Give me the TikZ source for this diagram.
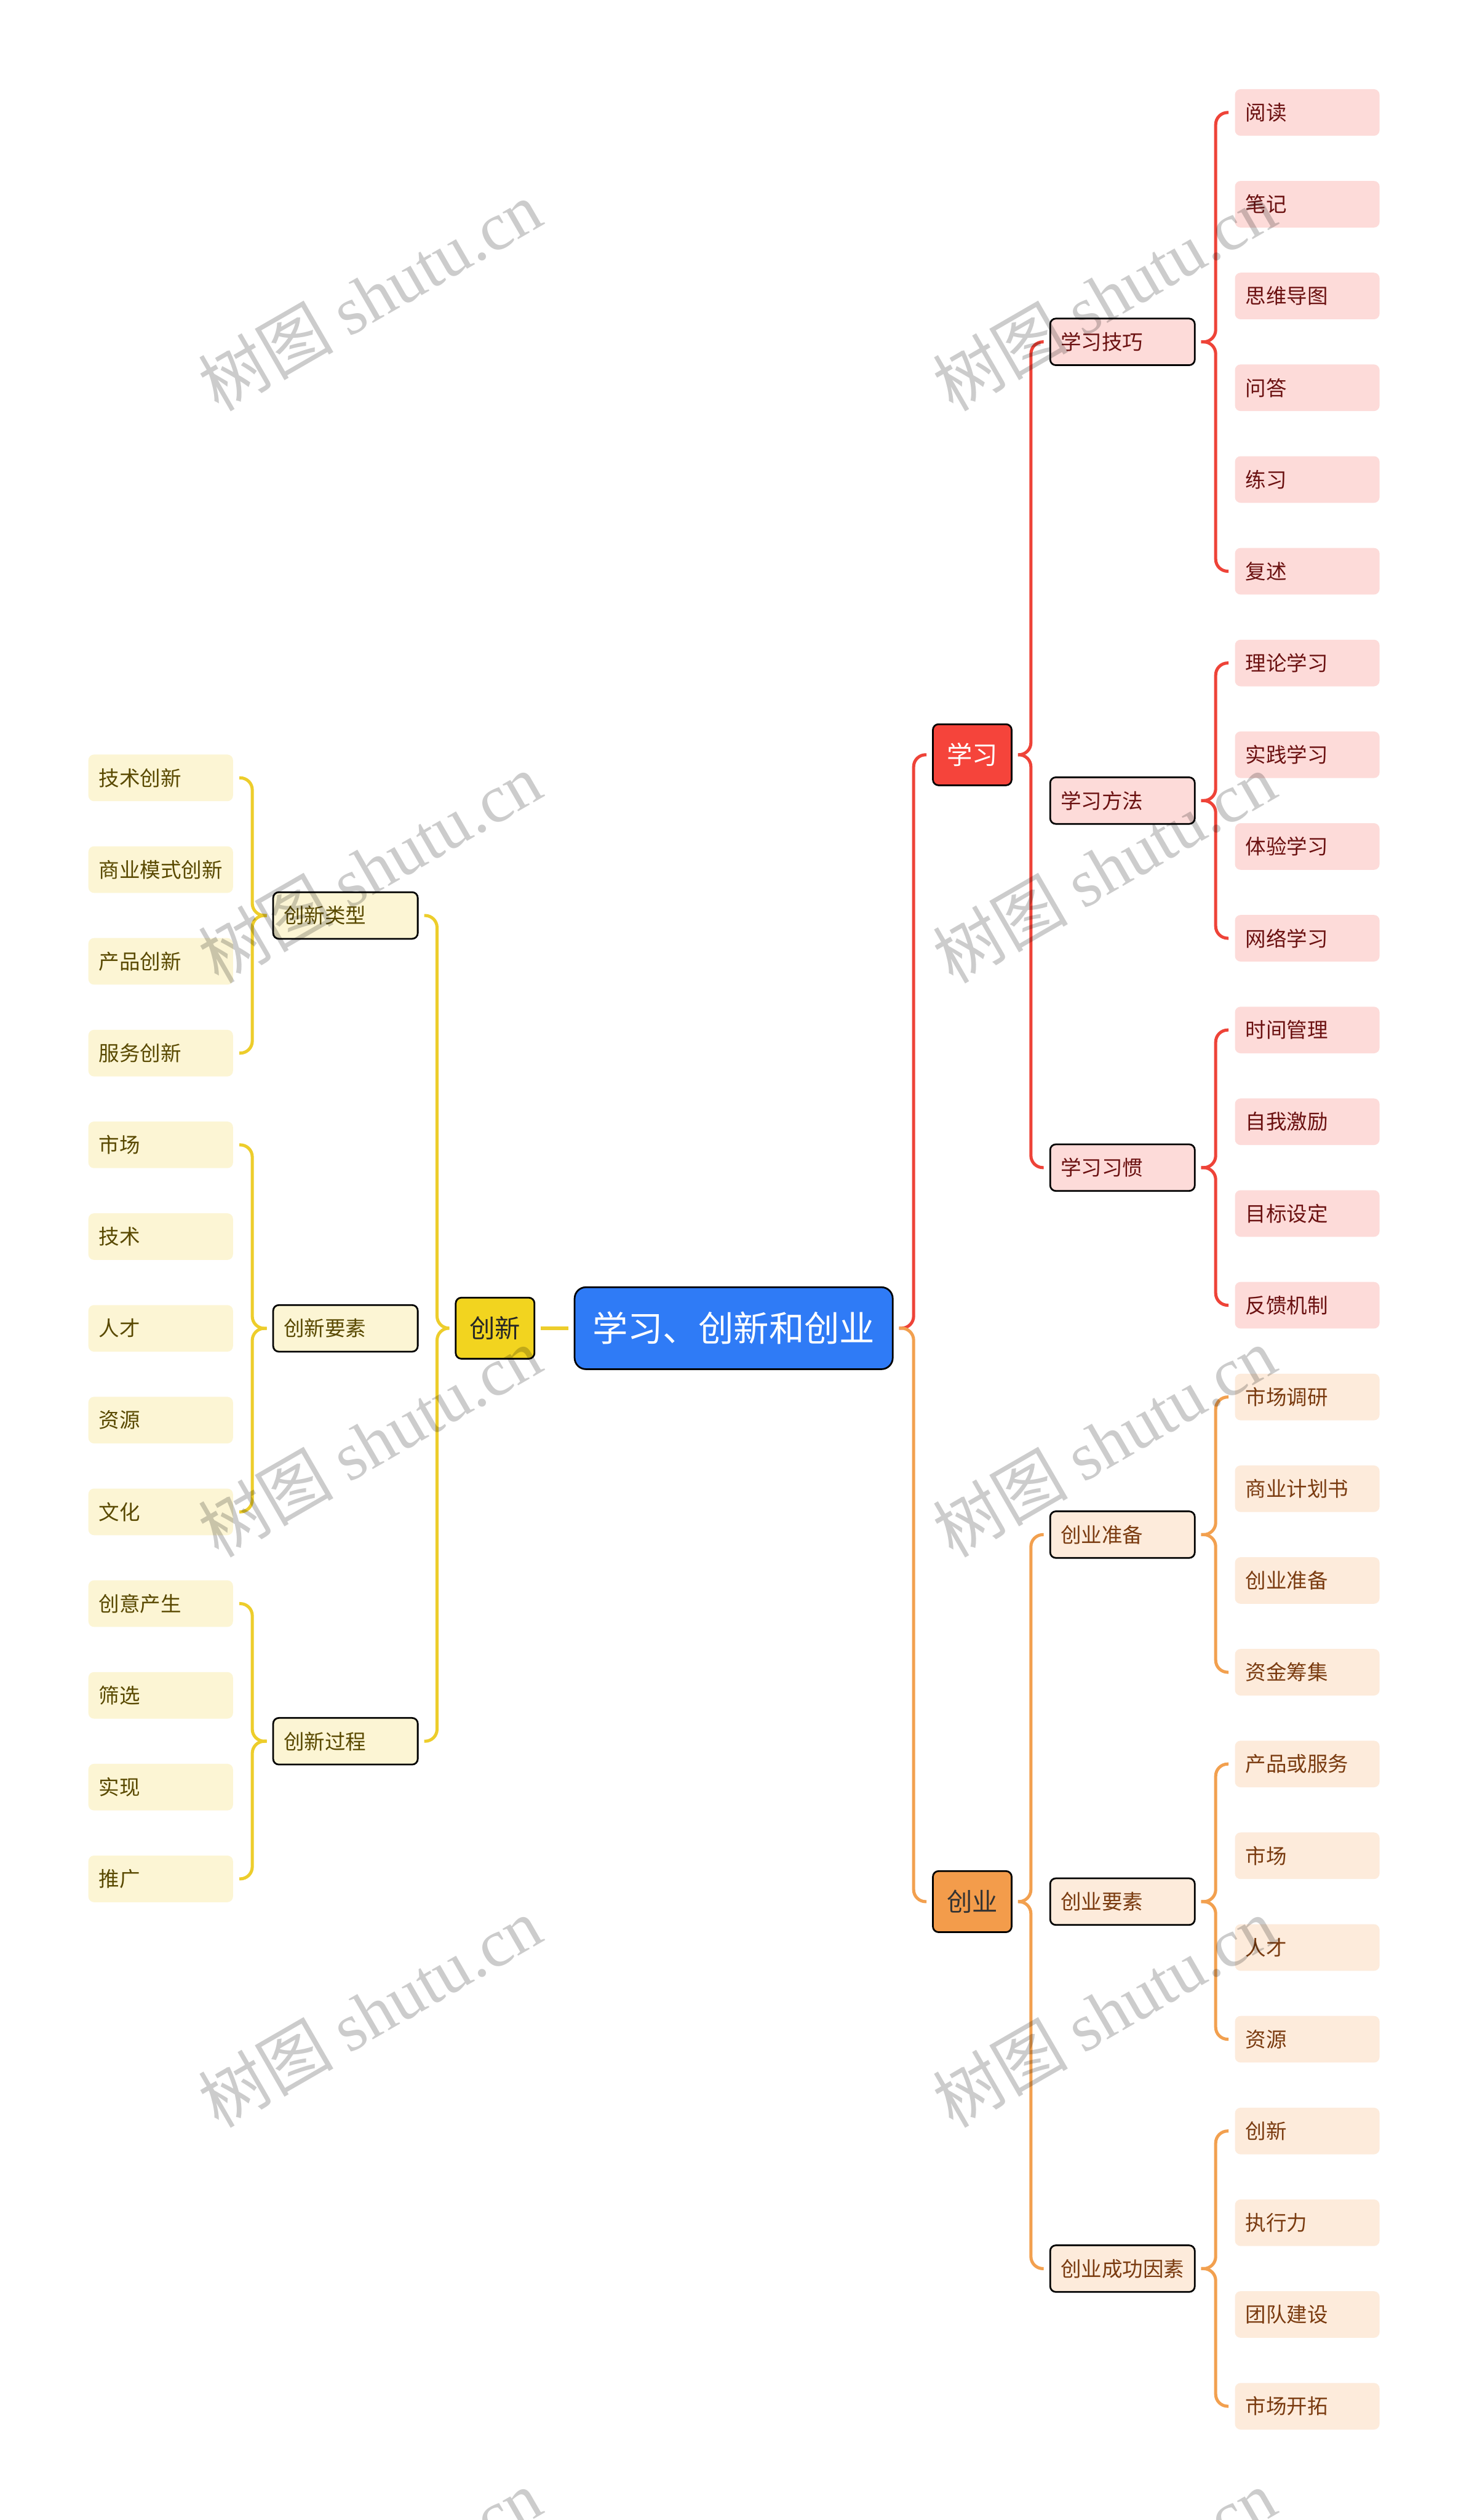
\documentclass[tikz,border=0pt]{standalone}
\usepackage{fontspec}
\setmainfont{Noto Sans CJK SC}
\newfontfamily\wmlatin{Liberation Serif}
\usetikzlibrary{positioning, calc}
\definecolor{rootblue}{HTML}{2F7BF6}
\definecolor{xxred}{HTML}{F5443B}
\definecolor{xxline}{HTML}{EE4338}
\definecolor{xxpink}{HTML}{FDDBD9}
\definecolor{xxtext}{HTML}{6B1111}
\definecolor{cyorange}{HTML}{F39C4B}
\definecolor{cyline}{HTML}{F2A04F}
\definecolor{cypeach}{HTML}{FDEBDB}
\definecolor{cytext}{HTML}{7A3B10}
\definecolor{cxyellow}{HTML}{F2D41F}
\definecolor{cxline}{HTML}{EDCD2B}
\definecolor{cxcream}{HTML}{FCF5D4}
\definecolor{cxtext}{HTML}{594900}
\newcommand{\rootsize}{\fontsize{12.5}{14}\selectfont}
\newcommand{\mainsize}{\fontsize{9}{10}\selectfont}
\newcommand{\subsize}{\fontsize{7.3}{8}\selectfont}
\newcommand{\wmsize}{\fontsize{24}{26}\selectfont}

\begin{document}
\begin{tikzpicture}[x=0.02cm, y=-0.02cm, node distance=0.562cm,
                    rootbox/.style = {draw, line width=0.6pt, rounded corners=4pt, fill=rootblue, text=white,
                                      minimum width=3.96cm, minimum height=1.02cm, inner sep=0pt, outer sep=0pt,
                                      font=\rootsize},
                    mainbox/.style = {draw, line width=0.6pt, rounded corners=2pt, minimum width=0.98cm,
                                      minimum height=0.76cm, inner sep=0pt, outer sep=0pt, font=\mainsize},
                    subbox/.style = {draw, line width=0.6pt, rounded corners=2pt, text width=1.54cm, inner xsep=0.13cm,
                                     inner ysep=0pt, outer sep=0pt, minimum height=0.58cm, align=left, font=\subsize},
                    leaf/.style = {subbox, draw=none},
                    xx/.style = {fill=xxpink, text=xxtext},
                    cy/.style = {fill=cypeach, text=cytext},
                    cx/.style = {fill=cxcream, text=cxtext},
                    wire/.style = {line width=1.1pt, rounded corners=0.15cm},
                    wm/.style = {rotate=30, text=black, text opacity=0.2, font=\wmsize}]
    \useasboundingbox (0,0) rectangle (914,1568);
    \fill[white] (0,0) rectangle (914,1568);
    \clip (0,0) rectangle (914,1568);

    \node[leaf, xx] (jq1) at (813.5,70) {阅读};
    \node[leaf, xx] (jq2) [below=of jq1] {笔记};
    \node[leaf, xx] (jq3) [below=of jq2] {思维导图};
    \node[leaf, xx] (jq4) [below=of jq3] {问答};
    \node[leaf, xx] (jq5) [below=of jq4] {练习};
    \node[leaf, xx] (jq6) [below=of jq5] {复述};
    \node[leaf, xx] (ff1) [below=of jq6] {理论学习};
    \node[leaf, xx] (ff2) [below=of ff1] {实践学习};
    \node[leaf, xx] (ff3) [below=of ff2] {体验学习};
    \node[leaf, xx] (ff4) [below=of ff3] {网络学习};
    \node[leaf, xx] (xg1) [below=of ff4] {时间管理};
    \node[leaf, xx] (xg2) [below=of xg1] {自我激励};
    \node[leaf, xx] (xg3) [below=of xg2] {目标设定};
    \node[leaf, xx] (xg4) [below=of xg3] {反馈机制};
    \node[leaf, cy] (zb1) [below=of xg4] {市场调研};
    \node[leaf, cy] (zb2) [below=of zb1] {商业计划书};
    \node[leaf, cy] (zb3) [below=of zb2] {创业准备};
    \node[leaf, cy] (zb4) [below=of zb3] {资金筹集};
    \node[leaf, cy] (ys1) [below=of zb4] {产品或服务};
    \node[leaf, cy] (ys2) [below=of ys1] {市场};
    \node[leaf, cy] (ys3) [below=of ys2] {人才};
    \node[leaf, cy] (ys4) [below=of ys3] {资源};
    \node[leaf, cy] (cg1) [below=of ys4] {创新};
    \node[leaf, cy] (cg2) [below=of cg1] {执行力};
    \node[leaf, cy] (cg3) [below=of cg2] {团队建设};
    \node[leaf, cy] (cg4) [below=of cg3] {市场开拓};

    \node[subbox, xx, anchor=east] (jiqiao) at ($(jq1.west)!0.5!(jq6.west)+(-25,0)$) {学习技巧};
    \node[subbox, xx, anchor=east] (fangfa) at ($(ff1.west)!0.5!(ff4.west)+(-25,0)$) {学习方法};
    \node[subbox, xx, anchor=east] (xiguan) at ($(xg1.west)!0.5!(xg4.west)+(-25,0)$) {学习习惯};
    \node[subbox, cy, anchor=east] (zhunbei) at ($(zb1.west)!0.5!(zb4.west)+(-25,0)$) {创业准备};
    \node[subbox, cy, anchor=east] (yaosu) at ($(ys1.west)!0.5!(ys4.west)+(-25,0)$) {创业要素};
    \node[subbox, cy, anchor=east] (chenggong) at ($(cg1.west)!0.5!(cg4.west)+(-25,0)$) {创业成功因素};

    \node[mainbox, fill=xxred, text=white, anchor=east] (xuexi) at ($(jiqiao.west)!0.5!(xiguan.west)+(-24,0)$) {学习};
    \node[mainbox, fill=cyorange, text=black!80, anchor=east] (chuangye) at ($(zhunbei.west)!0.5!(chenggong.west)+(-24,0)$) {创业};
    \node[rootbox, anchor=east] (root) at ($(xuexi.west)!0.5!(chuangye.west)+(-25,0)$) {学习、创新和创业};
    \node[mainbox, fill=cxyellow, text=black!85] (chuangxin) [left=0.5cm of root] {创新};

    \node[leaf, cx] (lx1) at (100,484) {技术创新};
    \node[leaf, cx] (lx2) [below=of lx1] {商业模式创新};
    \node[leaf, cx] (lx3) [below=of lx2] {产品创新};
    \node[leaf, cx] (lx4) [below=of lx3] {服务创新};
    \node[leaf, cx] (yx1) [below=of lx4] {市场};
    \node[leaf, cx] (yx2) [below=of yx1] {技术};
    \node[leaf, cx] (yx3) [below=of yx2] {人才};
    \node[leaf, cx] (yx4) [below=of yx3] {资源};
    \node[leaf, cx] (yx5) [below=of yx4] {文化};
    \node[leaf, cx] (gc1) [below=of yx5] {创意产生};
    \node[leaf, cx] (gc2) [below=of gc1] {筛选};
    \node[leaf, cx] (gc3) [below=of gc2] {实现};
    \node[leaf, cx] (gc4) [below=of gc3] {推广};

    \node[subbox, cx, anchor=west] (leixing) at ($(lx1.east)!0.5!(lx4.east)+(25,0)$) {创新类型};
    \node[subbox, cx, anchor=west] (yaosux) at ($(yx1.east)!0.5!(yx5.east)+(25,0)$) {创新要素};
    \node[subbox, cx, anchor=west] (guocheng) at ($(gc1.east)!0.5!(gc4.east)+(25,0)$) {创新过程};

    \draw[wire, draw=xxline] ($(root.east)+(4,0)$) -| ($(xuexi.west)+(-12,0)$) -- ($(xuexi.west)+(-4,0)$);
    \draw[wire, draw=cyline] ($(root.east)+(4,0)$) -| ($(chuangye.west)+(-12,0)$) -- ($(chuangye.west)+(-4,0)$);
    \draw[line width=1.4pt, cxline] ($(chuangxin.east)+(4,0)$) -- ($(root.west)+(-4,0)$);

    \draw[wire, draw=xxline] ($(xuexi.east)+(4,0)$) -| ($(jiqiao.west)+(-12,0)$) -- ($(jiqiao.west)+(-4,0)$);
    \draw[wire, draw=xxline] ($(xuexi.east)+(4,0)$) -| ($(xiguan.west)+(-12,0)$) -- ($(xiguan.west)+(-4,0)$);
    \draw[wire, draw=xxline] ($(jiqiao.east)+(4,0)$) -| ($(jq1.west)+(-12,0)$) -- ($(jq1.west)+(-4,0)$);
    \draw[wire, draw=xxline] ($(jiqiao.east)+(4,0)$) -| ($(jq6.west)+(-12,0)$) -- ($(jq6.west)+(-4,0)$);
    \draw[wire, draw=xxline] ($(fangfa.east)+(4,0)$) -| ($(ff1.west)+(-12,0)$) -- ($(ff1.west)+(-4,0)$);
    \draw[wire, draw=xxline] ($(fangfa.east)+(4,0)$) -| ($(ff4.west)+(-12,0)$) -- ($(ff4.west)+(-4,0)$);
    \draw[wire, draw=xxline] ($(xiguan.east)+(4,0)$) -| ($(xg1.west)+(-12,0)$) -- ($(xg1.west)+(-4,0)$);
    \draw[wire, draw=xxline] ($(xiguan.east)+(4,0)$) -| ($(xg4.west)+(-12,0)$) -- ($(xg4.west)+(-4,0)$);

    \draw[wire, draw=cyline] ($(chuangye.east)+(4,0)$) -| ($(zhunbei.west)+(-12,0)$) -- ($(zhunbei.west)+(-4,0)$);
    \draw[wire, draw=cyline] ($(chuangye.east)+(4,0)$) -| ($(chenggong.west)+(-12,0)$) -- ($(chenggong.west)+(-4,0)$);
    \draw[wire, draw=cyline] ($(zhunbei.east)+(4,0)$) -| ($(zb1.west)+(-12,0)$) -- ($(zb1.west)+(-4,0)$);
    \draw[wire, draw=cyline] ($(zhunbei.east)+(4,0)$) -| ($(zb4.west)+(-12,0)$) -- ($(zb4.west)+(-4,0)$);
    \draw[wire, draw=cyline] ($(yaosu.east)+(4,0)$) -| ($(ys1.west)+(-12,0)$) -- ($(ys1.west)+(-4,0)$);
    \draw[wire, draw=cyline] ($(yaosu.east)+(4,0)$) -| ($(ys4.west)+(-12,0)$) -- ($(ys4.west)+(-4,0)$);
    \draw[wire, draw=cyline] ($(chenggong.east)+(4,0)$) -| ($(cg1.west)+(-12,0)$) -- ($(cg1.west)+(-4,0)$);
    \draw[wire, draw=cyline] ($(chenggong.east)+(4,0)$) -| ($(cg4.west)+(-12,0)$) -- ($(cg4.west)+(-4,0)$);

    \draw[wire, draw=cxline] ($(chuangxin.west)+(-4,0)$) -| ($(leixing.east)+(12,0)$) -- ($(leixing.east)+(4,0)$);
    \draw[wire, draw=cxline] ($(chuangxin.west)+(-4,0)$) -| ($(guocheng.east)+(12,0)$) -- ($(guocheng.east)+(4,0)$);
    \draw[wire, draw=cxline] ($(leixing.west)+(-4,0)$) -| ($(lx1.east)+(12,0)$) -- ($(lx1.east)+(4,0)$);
    \draw[wire, draw=cxline] ($(leixing.west)+(-4,0)$) -| ($(lx4.east)+(12,0)$) -- ($(lx4.east)+(4,0)$);
    \draw[wire, draw=cxline] ($(yaosux.west)+(-4,0)$) -| ($(yx1.east)+(12,0)$) -- ($(yx1.east)+(4,0)$);
    \draw[wire, draw=cxline] ($(yaosux.west)+(-4,0)$) -| ($(yx5.east)+(12,0)$) -- ($(yx5.east)+(4,0)$);
    \draw[wire, draw=cxline] ($(guocheng.west)+(-4,0)$) -| ($(gc1.east)+(12,0)$) -- ($(gc1.east)+(4,0)$);
    \draw[wire, draw=cxline] ($(guocheng.west)+(-4,0)$) -| ($(gc4.east)+(12,0)$) -- ($(gc4.east)+(4,0)$);

    \node[wm] (wm1) at (230,184) {树图 {\wmlatin shutu.cn}};
    \node[wm] (wm2) at (230,540) {树图 {\wmlatin shutu.cn}};
    \node[wm] (wm3) at (230,897) {树图 {\wmlatin shutu.cn}};
    \node[wm] (wm4) at (230,1252) {树图 {\wmlatin shutu.cn}};
    \node[wm] (wm5) at (230,1608) {树图 {\wmlatin shutu.cn}};
    \node[wm] (wm6) at (687,184) {树图 {\wmlatin shutu.cn}};
    \node[wm] (wm7) at (687,540) {树图 {\wmlatin shutu.cn}};
    \node[wm] (wm8) at (687,897) {树图 {\wmlatin shutu.cn}};
    \node[wm] (wm9) at (687,1252) {树图 {\wmlatin shutu.cn}};
    \node[wm] (wm10) at (687,1608) {树图 {\wmlatin shutu.cn}};
\end{tikzpicture}
\end{document}
